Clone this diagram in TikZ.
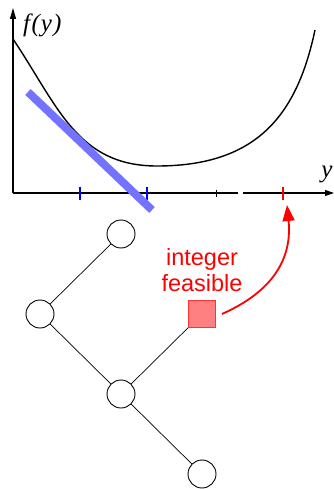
\documentclass[tikz,border=0pt]{standalone}
\usepackage{fontspec}
\setmainfont{Liberation Serif}
\newfontfamily\labfont{Liberation Sans}
\usetikzlibrary{arrows.meta}
\begin{document}
\begin{tikzpicture}[x=1pt,y=-1pt,
  axis/.style={line width=1.1pt,black},
  treenode/.style={circle,draw,line width=0.9pt,minimum size=28pt,inner sep=0pt,fill=white},
  feas/.style={rectangle,draw=red!80,fill=red!50,line width=0.8pt,minimum size=27pt,inner sep=0pt},
  edge/.style={line width=0.7pt},
  bluetick/.style={line width=1.3pt,blue},
  redlab/.style={text=red,font=\labfont\fontsize{23.5}{26}\selectfont,align=center},
  axlab/.style={font=\itshape\fontsize{25}{26}\selectfont,inner sep=0pt}]
\useasboundingbox (0,0) rectangle (334,489);
% axes
\coordinate (O) at (13,193);
\coordinate (Ytop) at (13,8);
\coordinate (Gap1) at (238,193);
\coordinate (Gap2) at (243,193);
\coordinate (Xend) at (334,193);
\draw[axis,-{Triangle[length=11pt,width=6pt]}] (O) -- (Ytop);
\draw[axis] (O) -- (Gap1);
\draw[axis,-{Triangle[length=9pt,width=6pt]}] (Gap2) -- (Xend);
\node[axlab,anchor=west] (fy) at (23,25) {f\kern1.5pt(\kern1pt y\kern1pt)};
\node[axlab] (ylab) at (327,174) {y};
% ticks
\draw[bluetick] (80,186.5) -- (80,200);
\draw[bluetick] (147,186.5) -- (147,200);
\draw[line width=0.8pt] (216,189.5) -- (216,196.5);
\draw[line width=1.3pt,red] (283,186.5) -- (283,200);
% curve
\draw[line width=1.4pt,black] (13,39) .. controls (58,106) and (77,166) .. (157,166)
  .. controls (257,166) and (297,115) .. (315,30);
% blue line
\draw[line width=8pt,blue!55] (28,92) -- (152,210);
% tree
\node[treenode] (t1) at (121,234) {};
\node[treenode] (t2) at (40,314) {};
\node[treenode] (t3) at (121,394) {};
\node[treenode] (t4) at (202,474) {};
\node[feas] (sq) at (202,314) {};
\draw[edge] (t1) -- (t2);
\draw[edge] (t2) -- (t3);
\draw[edge] (t3) -- (sq);
\draw[edge] (t3) -- (t4);
\node[redlab] (lab) at (202,270) {integer\\feasible};
\coordinate (tip) at (287,205);
\draw[red,line width=1.8pt,-{Triangle[length=16pt,width=12pt]}] ([xshift=6pt]sq.east) .. controls (265,295) and (293,265) .. (tip);
\end{tikzpicture}
\end{document}
